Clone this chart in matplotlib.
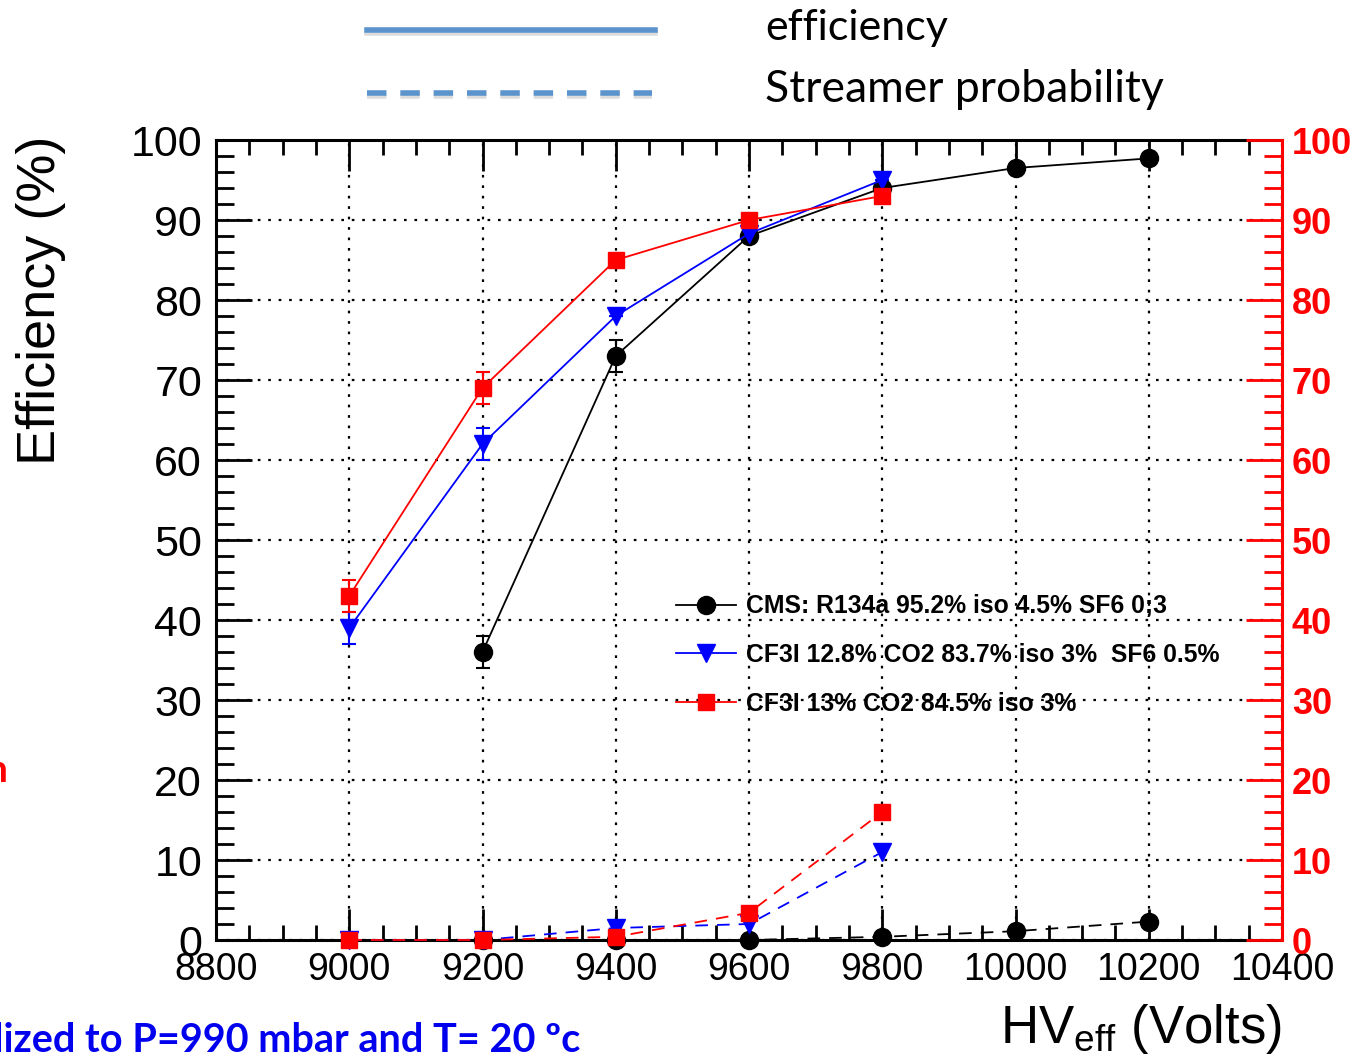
import matplotlib
matplotlib.use("Agg")
import matplotlib.pyplot as plt
from matplotlib.lines import Line2D
from matplotlib.ticker import MultipleLocator

plt.rcParams['font.family'] = ['Liberation Sans', 'DejaVu Sans']
plt.rcParams['mathtext.fontset'] = 'custom'
plt.rcParams['mathtext.rm'] = 'Liberation Sans'
plt.rcParams['mathtext.it'] = 'Liberation Sans'

# ---------------- data ----------------
hv_cms = [9200, 9400, 9600, 9800, 10000, 10200]
eff_cms = [36, 73, 88, 94, 96.5, 97.7]
err_cms = [2, 2, 0, 0, 0, 0]

hv_cf3i_sf6 = [9000, 9200, 9400, 9600, 9800]
eff_cf3i_sf6 = [39, 62, 78, 88.3, 95]
err_cf3i_sf6 = [2, 2, 0, 0, 0]

hv_cf3i = [9000, 9200, 9400, 9600, 9800]
eff_cf3i = [43, 69, 85, 90, 93]
err_cf3i = [2, 2, 0, 0, 0]

stream_hv_cms = [9200, 9400, 9600, 9800, 10000, 10200]
stream_cms = [0, 0, 0, 0.4, 1.1, 2.3]
stream_hv_cf3i_sf6 = [9000, 9200, 9400, 9600, 9800]
stream_cf3i_sf6 = [0, 0, 1.5, 2.0, 11]
stream_hv_cf3i = [9000, 9200, 9400, 9600, 9800]
stream_cf3i = [0, 0, 0.4, 3.4, 16]

labels = ["CMS: R134a 95.2% iso 4.5% SF6 0;3",
          "CF3I 12.8% CO2 83.7% iso 3%  SF6 0.5%",
          "CF3I 13% CO2 84.5% iso 3%"]
y_ticks = [0, 10, 20, 30, 40, 50, 60, 70, 80, 90, 100]
x_ticks = [8800, 9000, 9200, 9400, 9600, 9800, 10000, 10200, 10400]

# ---------------- figure ----------------
W, H = 1355, 1056
fig = plt.figure(figsize=(W / 100, H / 100), dpi=100)
ax = fig.add_axes([216 / W, 1 - 940 / H, (1282 - 216) / W, (940 - 140) / H])
ax.set_xlim(8800, 10400)
ax.set_ylim(0, 100)

styles = [
    dict(color='black', marker='o', ms=13),
    dict(color='#0000ff', marker='v', ms=13),
    dict(color='#ff0000', marker='s', ms=11),
]
eff_sets = [(hv_cms, eff_cms, err_cms), (hv_cf3i_sf6, eff_cf3i_sf6, err_cf3i_sf6),
            (hv_cf3i, eff_cf3i, err_cf3i)]
str_sets = [(stream_hv_cms, stream_cms), (stream_hv_cf3i_sf6, stream_cf3i_sf6),
            (stream_hv_cf3i, stream_cf3i)]

for st, (x, y) in zip(styles, str_sets):
    ax.plot(x, y, color=st['color'], lw=1.3, ls=(0, (7, 5)), marker=st['marker'],
            ms=st['ms'], mec=st['color'], mfc=st['color'], zorder=4, clip_on=False)

for st, (x, y, e) in zip(styles, eff_sets):
    ax.errorbar(x, y, yerr=e, color=st['color'], lw=1.3, marker=st['marker'],
                ms=st['ms'], mec=st['color'], mfc=st['color'], capsize=5,
                elinewidth=1.5, capthick=1.5, zorder=5)

# axes styling
ax.set_xticks(x_ticks)
ax.set_yticks(y_ticks)
ax.xaxis.set_minor_locator(MultipleLocator(50))
ax.yaxis.set_minor_locator(MultipleLocator(2))
ax.tick_params(axis='both', which='major', direction='in', width=2, color='black')
ax.tick_params(axis='x', which='major', length=22, labelsize=27, pad=9, top=True)
ax.tick_params(axis='x', which='minor', direction='in', length=11, width=2, top=True)
ax.tick_params(axis='y', which='major', length=26, labelsize=31, pad=10)
ax.tick_params(axis='y', which='minor', direction='in', length=13, width=2)
for s in ['left', 'bottom', 'top']:
    ax.spines[s].set_linewidth(2.2)
ax.spines['right'].set_visible(False)
ax.grid(True, which='major', color='black', ls=(0, (1.2, 3.5)), lw=1.6)

ax.set_ylabel('Efficiency (%)', fontsize=39)
ax.yaxis.set_label_coords(-0.141, 0.8)
ax.set_xlabel(r'HV$_{\rm eff}$ (Volts)', fontsize=38, ha='right')
ax.xaxis.set_label_coords(1.0, -0.077)

# right red axis
ax2 = ax.twinx()
ax2.set_ylim(0, 100)
ax2.set_yticks(y_ticks)
ax2.yaxis.set_minor_locator(MultipleLocator(2))
ax2.tick_params(axis='y', which='major', direction='in', length=26, width=2,
                color='red', labelcolor='red', labelsize=26, pad=7)
ax2.tick_params(axis='y', which='minor', direction='in', length=13, width=2, color='red')
for lab in ax2.get_yticklabels():
    lab.set_fontweight('bold')
for s in ['left', 'bottom', 'top']:
    ax2.spines[s].set_visible(False)
ax2.spines['right'].set_color('red')
ax2.spines['right'].set_linewidth(2.2)

# series legend
handles = [Line2D([], [], color=st['color'], lw=1.3, marker=st['marker'], ms=st['ms'])
           for st in styles]
leg = ax.legend(handles, labels, loc='upper left', bbox_to_anchor=(0.4225, 0.4445),
                frameon=False, prop=dict(size=17.8, weight='bold'), handlelength=2.4,
                labelspacing=1.0, handletextpad=0.42, borderaxespad=0)
leg.set_zorder(6)

# top style legend
col = '#5b93cc'
dash = (0, (3.5, 2.5))
fig.add_artist(Line2D([367 / W, 655 / W], [1 - 33 / H, 1 - 33 / H], color='#bbbbbb', lw=4, alpha=0.5))
fig.add_artist(Line2D([367 / W, 655 / W], [1 - 30 / H, 1 - 30 / H], color=col, lw=4))
fig.add_artist(Line2D([367 / W, 652 / W], [1 - 96 / H, 1 - 96 / H], color='#bbbbbb', lw=4,
                      ls=dash, alpha=0.5))
fig.add_artist(Line2D([367 / W, 652 / W], [1 - 93 / H, 1 - 93 / H], color=col, lw=4, ls=dash))
fig.text(765 / W, 1 - 28 / H, 'efficiency', fontsize=31, family='Lato', va='center')
fig.text(765 / W, 1 - 89 / H, 'Streamer probability', fontsize=32, family='Lato', va='center')

# cut-off annotations
fig.text(580 / W, 1 - 1052 / H, 'Normalized to P=990 mbar and T= 20 ºc', fontsize=28.5,
         family='Lato', weight='bold', color='#0000ee', ha='right', va='baseline')
fig.text(7 / W, 1 - 782 / H, 'n', fontsize=28, family='Lato', weight='bold',
         color='red', ha='right', va='baseline')

fig.savefig('out.png', dpi=100)
